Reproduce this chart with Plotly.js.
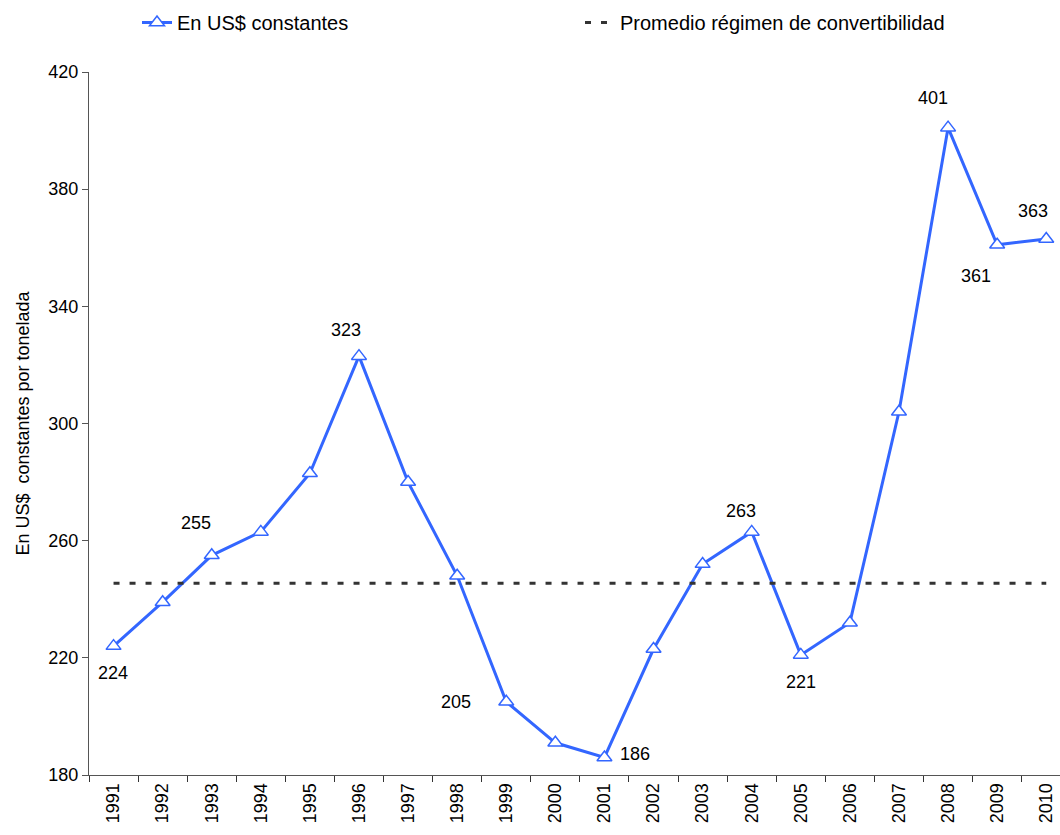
<!DOCTYPE html>
<html><head><meta charset="utf-8">
<script src="https://cdn.plot.ly/plotly-3.0.1.min.js"></script>
<style>body{margin:0;background:#fff}#chart{width:1060px;height:835px}</style>
</head><body><div id="chart"></div>
<script>
const years = ['1991','1992','1993','1994','1995','1996','1997','1998','1999','2000','2001','2002','2003','2004','2005','2006','2007','2008','2009','2010'];
const values = [224,239,255,263,283,323,280,248,205,191,186,223,252,263,221,232,304,401,361,363];
const averageValue = 245.5;
const labelYears = ['1991','1993','1996','1999','2001','2004','2005','2008','2009','2010'];
const labelValues = [224,255,323,205,186,263,221,401,361,363];
const seriesName = 'En US$ constantes';
const averageName = 'Promedio régimen de convertibilidad';

// label pixel offsets (style)
const labelShift = [[-1,-27],[-16,32],[-13,26],[-50,0],[31,3],[-11,21],[0,-27],[-15,30],[-21,-31],[-13,28]];

const font = 'Liberation Sans, Arial, sans-serif';
const blue = '#3366FF';

const traces = [
  {x: years, y: values, type:'scatter', mode:'lines+markers', name: seriesName,
   line:{color:blue, width:3},
   marker:{symbol:'triangle-up', size:13, color:'#ffffff', line:{color:blue, width:1.5}},
   legend:'legend', hoverinfo:'x+y'},
  {x: years, y: years.map(()=>averageValue), type:'scatter', mode:'lines', name: averageName,
   line:{color:'#333333', width:3, dash:'6px,10px'}, legend:'legend2', hoverinfo:'y'}
];

const annotations = labelYears.map((yr,i)=>({
  x: years.indexOf(yr), y: labelValues[i], xref:'x', yref:'y', text: String(labelValues[i]),
  showarrow:false, xshift: labelShift[i][0], yshift: labelShift[i][1],
  xanchor:'center', yanchor:'middle',
  font:{family:font, size:18, color:'#000'}
}));

const W = 971, H = 703;
const layout = {
  width:1060, height:835,
  margin:{l:89, r:0, t:72, b:60},
  paper_bgcolor:'#fff', plot_bgcolor:'#fff',
  font:{family:font, size:18, color:'#000'},
  showlegend:true,
  legend:{x:(137-89)/W, xanchor:'left', y:1+(72-3)/H, yanchor:'top', orientation:'h',
          font:{family:font,size:20,color:'#000'}, bgcolor:'rgba(0,0,0,0)'},
  legend2:{x:(580-89)/W, xanchor:'left', y:1+(72-3)/H, yanchor:'top', orientation:'h',
          font:{family:font,size:20,color:'#000'}, bgcolor:'rgba(0,0,0,0)'},
  xaxis:{type:'category', range:[-0.5, 19.28], showgrid:false, zeroline:false,
         showline:true, linecolor:'#555', linewidth:1,
         ticks:'outside', tickson:'boundaries', ticklen:6, tickcolor:'#333',
         tickangle:-90, tickfont:{family:font,size:18,color:'#000'}, fixedrange:true},
  yaxis:{range:[180,420], tickvals:[180,220,260,300,340,380,420], showgrid:false, zeroline:false,
         showline:true, linecolor:'#555', linewidth:1,
         ticks:'outside', ticklen:6, tickcolor:'#555',
         tickfont:{family:font,size:18,color:'#000'},
         title:{text:'En US$  constantes por tonelada', font:{family:font,size:18,color:'#000'}, standoff:14},
         fixedrange:true},
  annotations: annotations
};
Plotly.newPlot('chart', traces, layout, {displayModeBar:false});
</script></body></html>
